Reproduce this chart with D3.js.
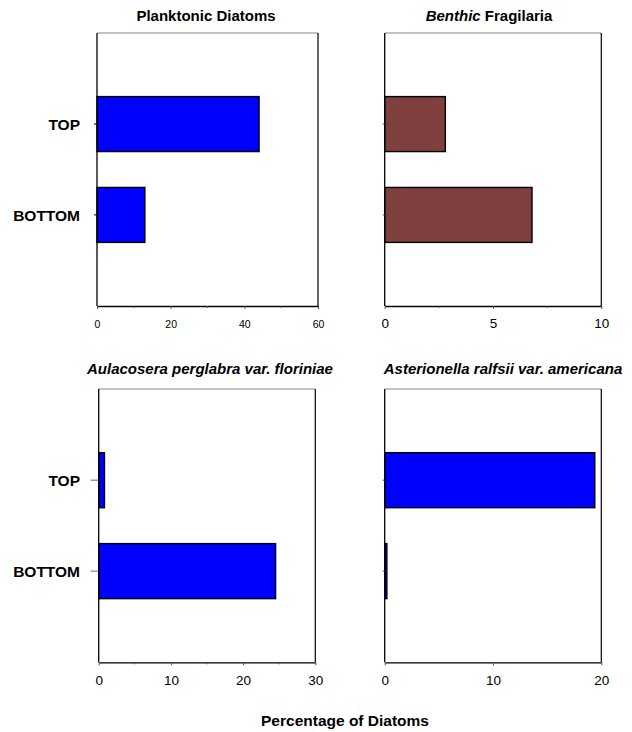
<!DOCTYPE html>
<html>
<head>
<meta charset="utf-8">
<script src="https://cdn.jsdelivr.net/npm/d3@7/dist/d3.min.js"></script>
<style>
  html, body { margin: 0; padding: 0; background: #fff; }
  svg { display: block; font-family: "Liberation Sans", Arial, sans-serif; }
</style>
</head>
<body>
<svg id="chart" width="632" height="732"></svg>
<script>
// Sample positions (y categories)
const categories = ["TOP", "BOTTOM"];

// Percentage of diatoms per panel, in the order of categories
const planktonic = [44, 13];
const benthic = [2.8, 6.8];
const aulacosera = [0.8, 24.5];
const asterionella = [19.4, 0.2];

// Axis extents and ticks per panel
const xMax = [60, 10, 30, 20];
const majorTicks = [[0, 20, 40, 60], [0, 5, 10], [0, 10, 20, 30], [0, 10, 20]];
const minorTicks = [[10, 30, 50], [2.5, 7.5], [5, 15, 25], []];

// Panel titles: pieces are [text, italic]
const titles = [
  [["Planktonic Diatoms", false]],
  [["Benthic", true], [" Fragilaria", false]],
  [["Aulacosera perglabra var. floriniae", true]],
  [["Asterionella ralfsii var. americana", true]]
];
const axisTitle = "Percentage of Diatoms";

const seriesValues = [planktonic, benthic, aulacosera, asterionella];
const barColors = ["#0000ff", "#7f3f3f", "#0000ff", "#0000ff"];

const svg = d3.select("#chart");

// Layout of the four plot areas
const panels = [
  { x0: 97,    x1: 318,   y0: 33,  y1: 306,   titleX: 206, titleY: 20.5,  tickFont: 10.5, tickY: 328, yLabels: true,  yTick: 3, yTickColor: "#000" },
  { x0: 384.7, x1: 601.3, y0: 33,  y1: 306,   titleX: 489, titleY: 20.5,  tickFont: 13.5, tickY: 328, yLabels: false, yTick: 2, yTickColor: "#555" },
  { x0: 98.7,  x1: 315.3, y0: 389, y1: 662.3, titleX: 210, titleY: 373.5, tickFont: 13.5, tickY: 685, yLabels: true,  yTick: 8, yTickColor: "#666" },
  { x0: 384.7, x1: 601.3, y0: 389, y1: 662.3, titleX: 503, titleY: 373.5, tickFont: 13.5, tickY: 685, yLabels: false, yTick: 2, yTickColor: "#555" }
];

panels.forEach((p, i) => {
  const g = svg.append("g");
  const x = d3.scaleLinear().domain([0, xMax[i]]).range([p.x0, p.x1]);
  const y = d3.scaleBand().domain(categories).range([p.y0, p.y1])
    .paddingInner(0.395).paddingOuter(0.7);

  const vals = seriesValues[i];

  // Bars
  g.selectAll("rect.bar").data(categories).join("rect")
    .attr("class", "bar")
    .attr("x", x(0))
    .attr("y", d => y(d))
    .attr("width", (d, k) => x(vals[k]) - x(0))
    .attr("height", y.bandwidth())
    .attr("fill", barColors[i])
    .attr("stroke", "#000")
    .attr("stroke-width", 1.4);

  // Frame: top grey, right black
  g.append("line").attr("x1", p.x0).attr("x2", p.x1).attr("y1", p.y0).attr("y2", p.y0)
    .attr("stroke", "#888").attr("stroke-width", 1.2);
  g.append("line").attr("x1", p.x1).attr("x2", p.x1).attr("y1", p.y0).attr("y2", p.y1)
    .attr("stroke", "#000").attr("stroke-width", 1.2);

  // X axis with major ticks
  const xAxis = d3.axisBottom(x).tickValues(majorTicks[i]).tickSize(3).tickSizeOuter(0)
    .tickFormat(d3.format("d"));
  const gx = g.append("g").attr("transform", `translate(0,${p.y1})`).call(xAxis);
  gx.select(".domain").attr("stroke", "#000").attr("stroke-width", 1.3);
  gx.selectAll(".tick line").attr("stroke", "#555");
  gx.selectAll(".tick text")
    .attr("y", null).attr("dy", null)
    .attr("transform", `translate(0,${p.tickY - p.y1})`)
    .attr("font-size", p.tickFont).attr("font-family", "Liberation Sans, Arial, sans-serif")
    .attr("fill", "#000");

  // Minor ticks
  g.selectAll("line.minor").data(minorTicks[i]).join("line")
    .attr("class", "minor")
    .attr("x1", d => x(d)).attr("x2", d => x(d))
    .attr("y1", p.y1).attr("y2", p.y1 + 2)
    .attr("stroke", "#555");

  // Y axis
  const yAxis = d3.axisLeft(y).tickSize(p.yTick).tickSizeOuter(0);
  const gy = g.append("g").attr("transform", `translate(${p.x0},0)`).call(yAxis);
  gy.select(".domain").attr("stroke", "#000").attr("stroke-width", 1.3)
    .attr("d", `M0,${p.y0}V${p.y1}`);
  gy.selectAll(".tick line").attr("stroke", p.yTickColor);
  if (p.yLabels) {
    gy.selectAll(".tick text")
      .attr("x", 80 - p.x0).attr("dy", "0.36em")
      .attr("font-size", 15.5).attr("font-weight", "bold")
      .attr("font-family", "Liberation Sans, Arial, sans-serif")
      .attr("fill", "#000");
  } else {
    gy.selectAll(".tick text").remove();
  }

  // Title
  const t = svg.append("text")
    .attr("x", p.titleX).attr("y", p.titleY)
    .attr("text-anchor", "middle")
    .attr("font-size", 15).attr("font-weight", "bold");
  titles[i].forEach(([txt, it]) => {
    t.append("tspan").text(txt).attr("font-style", it ? "italic" : "normal");
  });
});

// Shared x-axis title
svg.append("text")
  .attr("x", 345).attr("y", 726)
  .attr("text-anchor", "middle")
  .attr("font-size", 15.5).attr("font-weight", "bold")
  .text(axisTitle);
</script>
</body>
</html>
